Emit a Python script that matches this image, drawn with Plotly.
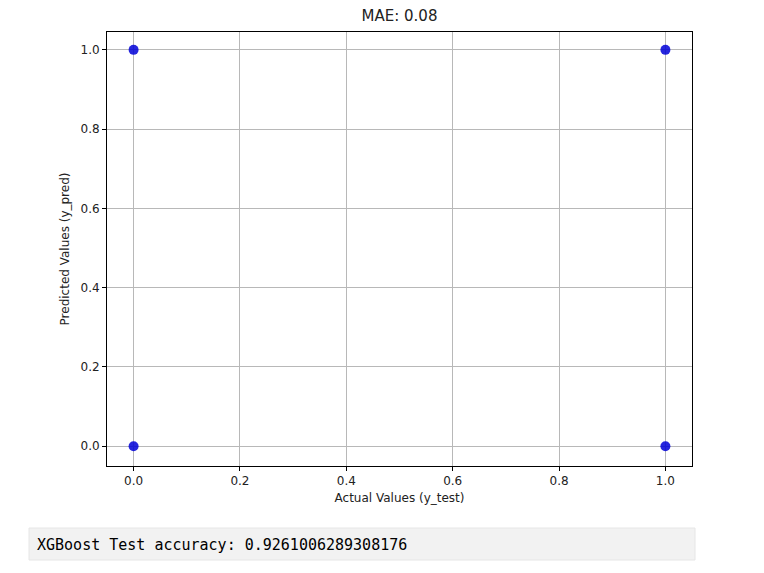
import plotly.graph_objects as go

y_test = [0, 0, 1, 1]
y_pred = [0, 1, 0, 1]
title_text = "MAE: 0.08"
x_label = "Actual Values (y_test)"
y_label = "Predicted Values (y_pred)"
output_text = "XGBoost Test accuracy: 0.9261006289308176"
tick_vals = [0.0, 0.2, 0.4, 0.6, 0.8, 1.0]

# page body has an 8px default margin; compensate
OFF = 8
W, H = 764 - OFF, 573 - OFF
L, R, T, B = 107 - OFF, 72, 32 - OFF, 107
pw, ph = W - L - R, H - T - B

def px_to_paper_x(px):
    return (px - OFF - L) / pw

def px_to_paper_y(py):
    return (H - B - (py - OFF)) / ph

fig = go.Figure()
fig.add_trace(go.Scatter(
    x=y_test, y=y_pred, mode="markers",
    marker=dict(color="rgb(0,0,215)", size=10, opacity=0.85, line=dict(width=0)),
    showlegend=False,
))

axis_common = dict(
    showgrid=True, gridcolor="#b8b8b8", gridwidth=1,
    showline=True, linecolor="black", linewidth=1, mirror=True,
    ticks="outside", ticklen=4, tickcolor="black",
    tickvals=tick_vals, ticktext=[f"{v:.1f}" for v in tick_vals],
    zeroline=False,
    tickfont=dict(family="DejaVu Sans", size=12, color="#222"),
)

fig.update_layout(
    width=W, height=H,
    margin=dict(l=L, r=R, t=T, b=B),
    plot_bgcolor="white", paper_bgcolor="white",
    title=dict(text=title_text, x=0.5, xref="paper", xanchor="center",
               y=1 - (16 - OFF) / H, yanchor="middle",
               font=dict(family="DejaVu Sans", size=15, color="#222")),
    xaxis=dict(range=[-0.05, 1.05],
               title=dict(text=x_label, font=dict(family="DejaVu Sans", size=12, color="#222"), standoff=6),
               **axis_common),
    yaxis=dict(range=[-0.05, 1.045],
               title=dict(text=y_label, font=dict(family="DejaVu Sans", size=12, color="#222"), standoff=8),
               **axis_common),
)

fig.add_shape(type="rect", xref="paper", yref="paper",
              x0=px_to_paper_x(29), x1=px_to_paper_x(695),
              y0=px_to_paper_y(560), y1=px_to_paper_y(528),
              fillcolor="#f2f2f2", line=dict(color="#e6e6e6", width=1), layer="below")
fig.add_annotation(xref="paper", yref="paper",
                   x=px_to_paper_x(35), y=px_to_paper_y(545),
                   xanchor="left", yanchor="middle", showarrow=False,
                   text=output_text,
                   font=dict(family="DejaVu Sans Mono", size=15, color="black"))

fig.write_html("out.html")
